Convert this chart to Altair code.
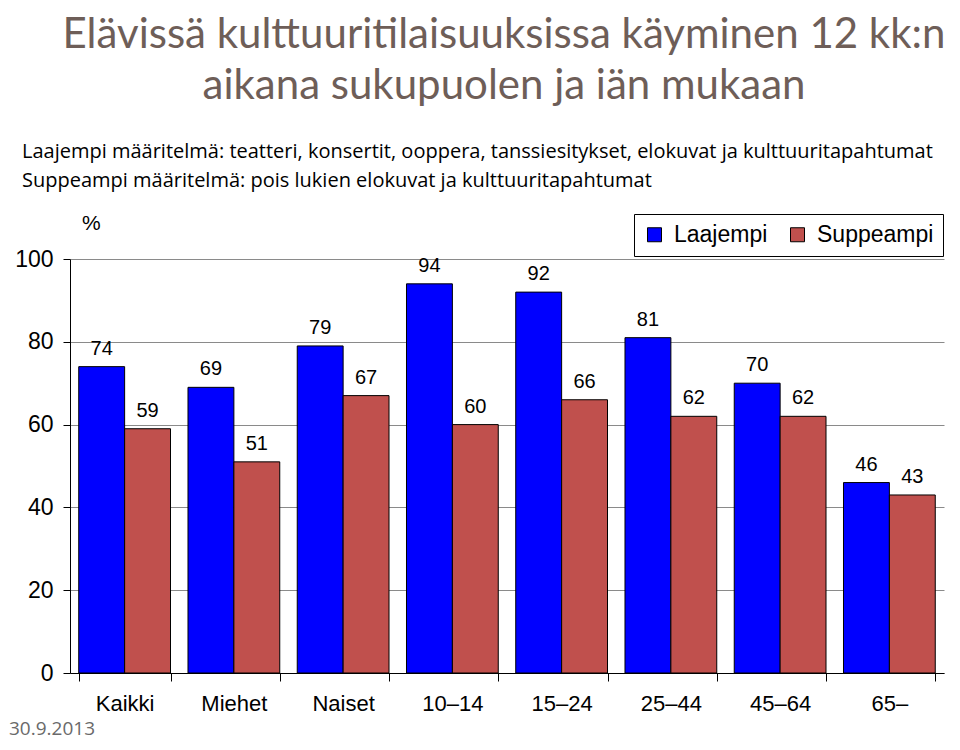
import altair as alt
import pandas as pd

categories = ["Kaikki", "Miehet", "Naiset", "10–14", "15–24", "25–44", "45–64", "65–"]
laajempi = [74, 69, 79, 94, 92, 81, 70, 46]
suppeampi = [59, 51, 67, 60, 66, 62, 62, 43]
series = ["Laajempi", "Suppeampi"]
colors = ["#0000FF", "#C0504D"]
y_ticks = [0, 20, 40, 60, 80, 100]

title_lines = ["Elävissä kulttuuritilaisuuksissa käyminen 12 kk:n",
               "aikana sukupuolen ja iän mukaan"]
subtitle_lines = ["Laajempi määritelmä: teatteri, konsertit, ooppera, tanssiesitykset, elokuvat ja kulttuuritapahtumat",
                  "Suppeampi määritelmä: pois lukien elokuvat ja kulttuuritapahtumat"]
unit_label = "%"
date_label = "30.9.2013"

rows = []
for c, a, b in zip(categories, laajempi, suppeampi):
    rows.append({"cat": c, "series": series[0], "val": a})
    rows.append({"cat": c, "series": series[1], "val": b})
df = pd.DataFrame(rows)

W, H = 874, 414
AX_FONT = "Liberation Sans"
TITLE_FONT = "Lato"
SUB_FONT = "Open Sans"
TITLE_COLOR = "#6e5e58"

xenc = alt.X("cat:N", sort=categories, title=None,
             scale=alt.Scale(paddingInner=0.16, paddingOuter=0.08),
             axis=alt.Axis(labelAngle=0, labelFont=AX_FONT, labelFontSize=22,
                           labelColor="black", labelPadding=12, tickBand="extent",
                           tickSize=8, tickColor="black", domainColor="black",
                           grid=False))
yenc = alt.Y("val:Q", title=None,
             scale=alt.Scale(domain=[0, 100], nice=False),
             axis=alt.Axis(values=y_ticks, labelFont=AX_FONT, labelFontSize=23,
                           labelColor="black", labelPadding=10, tickSize=7,
                           tickColor="black", domainColor="black",
                           grid=True, gridColor="#8a8a8a", gridWidth=1))

base = alt.Chart(df)

bars = base.mark_bar(stroke="black", strokeWidth=1).encode(
    x=xenc,
    xOffset=alt.XOffset("series:N", sort=series, scale=alt.Scale(paddingInner=0, paddingOuter=0)),
    y=yenc,
    color=alt.Color("series:N", sort=series,
                    scale=alt.Scale(domain=series, range=colors),
                    legend=alt.Legend(title=None, orient="none", legendX=564, legendY=-45,
                                      direction="horizontal", strokeColor="black",
                                      fillColor="white", padding=9,
                                      symbolType="square", symbolSize=196,
                                      symbolStrokeColor="black", symbolStrokeWidth=1,
                                      labelFont=AX_FONT, labelFontSize=23,
                                      labelColor="black", labelOffset=8,
                                      columnPadding=18)),
)

labels = base.mark_text(font=AX_FONT, fontSize=20, color="black", dy=-12,
                        baseline="alphabetic").encode(
    x=alt.X("cat:N", sort=categories),
    xOffset=alt.XOffset("series:N", sort=series),
    y="val:Q",
    text="val:Q",
)

def txt(s, x, y, size, font, color, align="left"):
    return alt.Chart(pd.DataFrame({"t": [s]})).mark_text(
        font=font, fontSize=size, color=color, align=align, baseline="alphabetic"
    ).encode(text="t:N", x=alt.value(x), y=alt.value(y))

t1 = txt(title_lines[0], 434, -211, 42, TITLE_FONT, TITLE_COLOR, "center")
t2 = txt(title_lines[1], 434, -160, 42, TITLE_FONT, TITLE_COLOR, "center")
s1 = txt(subtitle_lines[0], -48, -101, 20, SUB_FONT, "black")
s2 = txt(subtitle_lines[1], -48, -72, 20, SUB_FONT, "black")
pct = txt(unit_label, 12, -29, 21, AX_FONT, "black")
date = txt(date_label, -61, 476, 19, SUB_FONT, "#6a6a6a")

chart = alt.layer(bars, labels, t1, t2, s1, s2, pct, date).properties(
    width=W, height=H,
    padding={"left": 62, "top": 251, "right": 8, "bottom": 69},
    autosize=alt.AutoSizeParams(type="none"),
).configure(background="white").configure_view(stroke=None)

chart.save("out.html", embed_options={"renderer": "svg", "actions": False})
